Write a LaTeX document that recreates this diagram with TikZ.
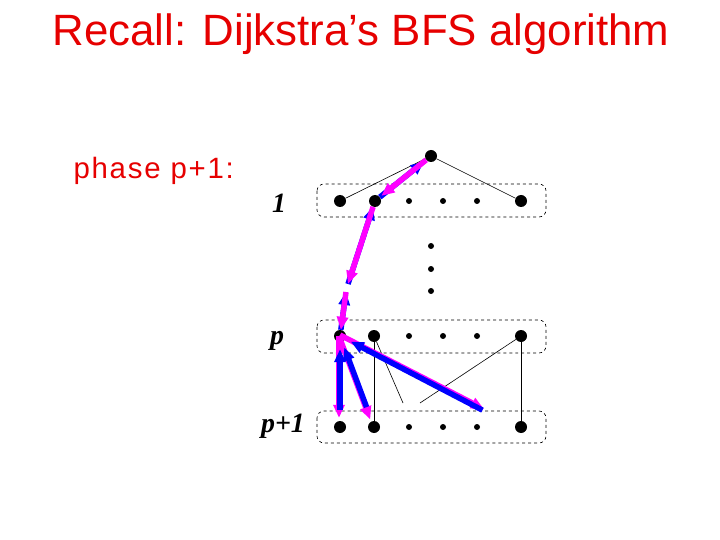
\documentclass[tikz,border=0pt]{standalone}
\usepackage{fontspec}
\setmainfont{Liberation Serif}
\newfontfamily\slidefont{Liberation Sans}
\newfontfamily\phasefont[LetterSpace=6]{Liberation Sans}
\usetikzlibrary{arrows.meta}
\definecolor{titlered}{RGB}{230,0,0}
\definecolor{walkpink}{RGB}{255,0,255}
\definecolor{backblue}{RGB}{0,0,255}
\tikzset{
  bigdot/.style={circle,fill=black,inner sep=0pt,minimum size=12bp},
  smalldot/.style={circle,fill=black,inner sep=0pt,minimum size=6bp},
  layerbox/.style={draw,dashed,rounded corners=7bp,line width=0.6bp},
  walkarrow/.style={-{Triangle[length=13bp,width=11bp]},line width=5.5bp,walkpink},
  backarrow/.style={-{Triangle[length=13bp,width=11bp]},line width=5.5bp,backblue},
  rowlabel/.style={font=\fontsize{28}{28}\selectfont\bfseries\itshape,anchor=base},
}
\begin{document}
\begin{tikzpicture}[x=1bp,y=-1bp]
    \useasboundingbox (0,0) rectangle (720,540);

    \node[font=\slidefont\fontsize{44}{44}\selectfont,text=titlered,anchor=base] (title) at (361,46) {Recall: Dijkstra’s BFS algorithm};
    \node[font=\phasefont\fontsize{29.5}{29.5}\selectfont,text=titlered,anchor=base west] (phase) at (70,179) {phase p+1:};

    \node[rowlabel] (lab1) at (279,213) {1};
    \node[rowlabel] (labp) at (277,344) {p};
    \node[rowlabel] (labq) at (283,432) {p+1};

    % layer boxes
    \draw[layerbox] (317,184) rectangle (546,217);
    \draw[layerbox] (317,320) rectangle (546,353);
    \draw[layerbox] (317,411) rectangle (546,443);

    \node[bigdot] (top) at (431,156) {};

    \node[bigdot] (A1) at (340,201) {};
    \node[bigdot] (B1) at (375,201) {};
    \node[smalldot] (C1) at (409,201) {};
    \node[smalldot] (D1) at (443,201) {};
    \node[smalldot] (E1) at (477,201) {};
    \node[bigdot] (F1) at (521,201) {};

    \node[smalldot] (v1) at (431,246) {};
    \node[smalldot] (v2) at (431,269) {};
    \node[smalldot] (v3) at (431,291) {};

    \node[bigdot] (Ap) at (340,336) {};
    \node[bigdot] (Bp) at (374,336) {};
    \node[smalldot] (Cp) at (409,336) {};
    \node[smalldot] (Dp) at (443,336) {};
    \node[smalldot] (Ep) at (477,336) {};
    \node[bigdot] (Fp) at (521,336) {};

    \node[bigdot] (Aq) at (340,427) {};
    \node[bigdot] (Bq) at (374,427) {};
    \node[smalldot] (Cq) at (409,427) {};
    \node[smalldot] (Dq) at (443,427) {};
    \node[smalldot] (Eq) at (477,427) {};
    \node[bigdot] (Fq) at (521,427) {};

    \coordinate (mid1) at (403,403);
    \coordinate (mid2) at (420,403);
    \coordinate (gap1) at (348,284);
    \coordinate (gap2) at (346,292);
    \coordinate (far) at (484,410);

    % edges
    \draw[line width=0.6bp] (top) -- (A1);
    \draw[line width=0.6bp] (top) -- (F1);
    \draw[line width=0.6bp] (Bp) -- (Bq);
    \draw[line width=0.6bp] (Fp) -- (Fq);
    \draw[line width=0.6bp] (Bp) -- (mid1);
    \draw[line width=0.6bp] (Fp) -- (mid2);

    % path down to layer p
    \draw[backarrow,shorten >=3bp] (B1) -- (top);
    \draw[walkarrow,shorten >=2bp] (top) -- (B1);
    \draw[backarrow] (gap1) -- (B1);
    \draw[walkarrow] (B1) -- (gap1);
    \draw[backarrow] (Ap) -- (gap2);
    \draw[walkarrow] (gap2) -- (Ap);

    % new layer p+1
    \draw[walkarrow,shorten >=3bp] ([xshift=-1bp]Ap.center) -- ([xshift=-1bp]Aq.north);
    \draw[walkarrow,shorten >=8bp] ([xshift=-1bp]Ap.center) -- ([xshift=-1bp]Bq.center);
    \draw[walkarrow] ([yshift=1bp]Ap.center) -- ([yshift=1bp]far);
    \draw[backarrow,shorten <=11bp,shorten >=7bp] (Aq) -- (Ap);
    \draw[backarrow,shorten <=15bp,shorten >=6bp] (Bq) -- (Ap);
    \draw[backarrow,shorten <=4bp,shorten >=6bp] ([xshift=2bp,yshift=-2bp]far) -- (Ap);
\end{tikzpicture}
\end{document}
